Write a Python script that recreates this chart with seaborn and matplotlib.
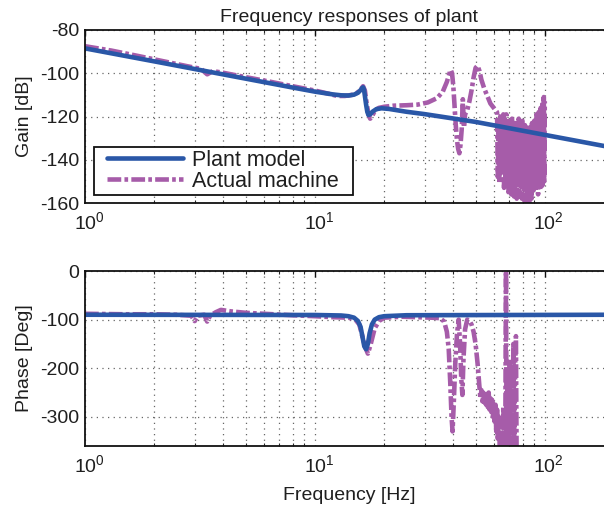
import math
import matplotlib
matplotlib.use("Agg")
import matplotlib.pyplot as plt
import matplotlib.transforms as mtransforms
from matplotlib.lines import Line2D
from matplotlib.legend_handler import HandlerLine2D
from matplotlib.ticker import FixedLocator, FuncFormatter, LogLocator, NullFormatter
import seaborn as sns

# ---------------- data ----------------
plant_freq = [1, 2, 5, 8, 10, 12, 13, 14, 14.8, 15.4, 15.8, 16.0, 16.2, 16.35, 16.5, 16.7,
              16.9, 17.1, 17.4, 17.8, 18.5, 19.5, 21, 25, 30, 50, 100, 200]
plant_gain = [-88.5, -94.5, -102.5, -106.6, -108.5, -109.8, -110.2, -110.3, -109.9, -109.0,
              -107.8, -107.0, -106.5, -107.5, -110.5, -114.5, -117.8, -119.3, -119.0, -117.8,
              -116.6, -116.2, -116.5, -117.8, -118.9, -122.5, -128.5, -134.5]

plant_phase_freq = [1, 10, 13, 14, 14.8, 15.4, 15.8, 16.1, 16.4, 16.7, 17.0, 17.3, 17.7,
                    18.2, 19, 20, 25, 200]
plant_phase = [-90, -90.5, -91.5, -93, -96, -103, -115, -135, -155, -161, -150, -128, -110,
               -100, -95, -93, -91, -90]

act_gain_freq = [1, 1.3, 1.7, 2.2, 2.8, 3.2, 3.4, 3.6, 4.0, 5.0, 6.3, 8, 10, 11.5, 12.5, 13.5,
                 14.5, 15.3, 15.8, 16.2, 16.5, 16.8, 17.1, 17.4, 17.8, 18.3, 19, 20, 22, 25,
                 28, 31, 34, 36, 37.5, 38.5, 39, 39.5, 40, 40.5, 41, 41.5, 42, 42.5, 43, 43.5,
                 44, 44.5, 45, 46, 47, 48, 49, 50, 51, 52, 53, 54.5, 56, 58, 60, 61,
                 62.0, 62.5, 63.0, 63.5, 64.0, 64.5, 65.0, 65.5, 66.0, 66.5, 67.0, 67.5,
                 68.0, 68.5, 69.0, 69.5, 70.0, 70.5, 71.0, 71.5, 72.0, 72.5, 73.0, 73.5,
                 74.0, 74.5, 75.0, 75.5, 76.0, 76.5, 77.0, 77.5, 78.0, 78.5, 79.0, 79.5,
                 80.0, 80.5, 81.0, 81.5, 82.0, 82.5, 83.0, 83.5, 84.0, 84.5, 85.0, 85.5,
                 86.0, 86.5, 87.0, 87.5, 88.0, 88.5, 89.0, 89.5, 90.0, 90.5, 91.0, 91.5,
                 92.0, 92.5, 93.0, 93.5, 94.0, 94.5, 95.0, 95.5, 96.0, 96.5, 97.0, 97.5,
                 98.0, 98.5, 99.0, 99.5, 100.0]
act_gain = [-87.5, -89.5, -92, -94.5, -96.8, -98, -100.5, -99, -99.8, -101.8, -103.8, -106,
            -108, -109.5, -110.5, -110.5, -110, -109, -107.5, -106, -108, -114, -119, -121,
            -119.5, -117, -116, -115.5, -115, -114.8, -114.5, -113.5, -111.5, -108.5, -104,
            -100, -98.5, -100, -106, -115, -124, -131, -135, -137, -133, -126, -112, -125,
            -119, -117, -113, -108, -102, -97.5, -96.5, -99, -103, -107, -110, -114, -116,
            -117,
            -118, -148, -121, -151, -120, -140, -123, -146, -119, -153, -121, -150,
            -119, -147, -125, -155, -122, -150, -124, -156, -121, -149, -126, -157,
            -123, -152, -122, -158, -125, -150, -121, -157, -124, -153, -126, -158,
            -122, -151, -127, -159, -124, -154, -128, -160, -125, -156, -127, -162,
            -124, -155, -126, -158, -123, -151, -127, -154, -122, -149, -125, -153,
            -119, -150, -123, -156, -118, -151, -121, -154, -116, -149, -119, -152,
            -113, -148, -111, -150, -113]

act_phase_freq = [1, 1.5, 2, 2.5, 2.9, 3.0, 3.1, 3.3, 3.4, 3.5, 3.7, 3.9, 4.3, 5, 6, 8, 10,
                  12, 14, 15, 15.6, 16.1, 16.6, 17.0, 17.5, 18.2, 19, 20, 24, 28, 32, 35,
                  36.5, 37.5, 38.2, 38.8, 39.3, 39.7, 40.2, 40.8, 41.5, 42.2, 42.8, 43.3,
                  43.8, 44.3, 45, 46, 47, 48, 49, 50, 51, 52, 52.5, 53, 53.5, 54, 54.5, 55,
                  55.5, 56, 56.5, 57, 57.5, 58, 58.5, 59, 59.5, 60, 60.5, 61, 61.5, 62, 62.5,
                  63, 63.8, 64.5, 65.3, 66, 66.8, 67.4, 67.8, 68.2, 68.8, 69.5, 70.2,
                  70.9, 71.6, 72.3, 73.0, 73.7, 74.4, 74.9, 75.4, 76]
act_phase = [-88, -89, -89, -90, -92, -103, -92, -90, -104, -92, -85, -80, -83, -86, -88,
             -91, -93, -95, -96, -100, -110, -135, -158, -170, -150, -118, -103, -96, -94,
             -95, -96, -97, -104, -125, -160, -230, -300, -330, -270, -190, -130, -100, -150,
             -220, -255, -180, -120, -100, -102, -110, -125, -150, -190, -240, -262, -245,
             -268, -250, -270, -248, -275, -255, -280, -250, -285, -262, -290, -265, -300,
             -270, -310, -275, -330, -285, -345,
             -300, -370, -320, -375, -280, -380, -300, 0, -380, -220, -370, -180, -365, -200,
             -370, -150, -365, -180, -134, -380, -420]

legend_labels = ["Plant model", "Actual machine"]
title_text = "Frequency responses of plant"
xtick_vals = [1, 10, 100]
gain_ticks = [-160, -140, -120, -100, -80]
phase_ticks = [-300, -200, -100, 0]

# ---------------- style ----------------
sns.set_style("white")
plt.rcParams["font.family"] = ["Liberation Sans", "DejaVu Sans"]
plt.rcParams["mathtext.fontset"] = "custom"
plt.rcParams["mathtext.rm"] = "Liberation Sans"
plt.rcParams["mathtext.it"] = "Liberation Sans:italic"
plt.rcParams["mathtext.bf"] = "Liberation Sans:bold"
plt.rcParams["axes.unicode_minus"] = False

BLUE = "#2A57A7"
PURPLE = "#A65CA9"
TXT = "#1f1f1f"
DASHDOT = (0, (3.0, 0.7, 0.8, 0.7))

fig = plt.figure(figsize=(6.04, 5.15), dpi=100)
W, H = 604, 515
ax1 = fig.add_axes([85 / W, 1 - 203 / H, 529 / W, 173 / H])
ax2 = fig.add_axes([85 / W, 1 - 446 / H, 529 / W, 175 / H])

for ax in (ax1, ax2):
    ax.set_xscale("log")

sns.lineplot(x=act_gain_freq, y=act_gain, ax=ax1, color=PURPLE, lw=3.3,
             linestyle=DASHDOT, sort=False, estimator=None, label=legend_labels[1])
sns.lineplot(x=plant_freq, y=plant_gain, ax=ax1, color=BLUE, lw=3.3,
             sort=False, estimator=None, label=legend_labels[0])

sns.lineplot(x=act_phase_freq, y=act_phase, ax=ax2, color=PURPLE, lw=3.3,
             linestyle=DASHDOT, sort=False, estimator=None, legend=False)
sns.lineplot(x=plant_phase_freq, y=plant_phase, ax=ax2, color=BLUE, lw=3.3,
             sort=False, estimator=None, legend=False)

ax1.set_ylim(-160, -80)
ax1.set_yticks(gain_ticks)
ax2.set_ylim(-360, 0)
ax2.set_yticks(phase_ticks)

fmt = FuncFormatter(lambda v, p: r"$\mathregular{10^{%d}}$" % round(math.log10(v)))
for ax in (ax1, ax2):
    ax.set_xlim(1, 200)
    ax.xaxis.set_major_locator(FixedLocator(xtick_vals))
    ax.xaxis.set_major_formatter(fmt)
    ax.xaxis.set_minor_locator(LogLocator(base=10, subs=range(2, 10)))
    ax.xaxis.set_minor_formatter(NullFormatter())
    ax.grid(True, which="both", axis="x", linestyle=(0, (1, 3.5)), color="#666666", lw=0.9)
    ax.grid(True, which="major", axis="y", linestyle=(0, (1, 3.5)), color="#666666", lw=0.9)
    ax.set_axisbelow(True)
    for s in ax.spines.values():
        s.set_color("#111111")
        s.set_linewidth(1.3)
    ax.tick_params(axis="both", which="major", direction="in", length=4, width=1.0,
                   top=True, right=True, labelsize=14, colors="#111111", labelcolor=TXT)
    ax.tick_params(axis="x", which="major", pad=6)
    ax.tick_params(axis="x", which="minor", direction="in", length=2.5, width=0.8,
                   top=True, bottom=True)
    ax.tick_params(axis="y", which="major", pad=4)
    ax.set_xlabel("")
    ax.set_ylabel("")

ax1.set_title(title_text, fontsize=14, color=TXT, pad=6)
ax1.set_ylabel("Gain [dB]", fontsize=14, color=TXT)
ax2.set_ylabel("Phase [Deg]", fontsize=14, color=TXT)
ax2.set_xlabel("Frequency [Hz]", fontsize=14, color=TXT)
ax1.yaxis.set_label_coords(-0.098, 0.5)
ax2.yaxis.set_label_coords(-0.098, 0.5)
ax2.xaxis.set_label_coords(0.5, -0.235)

handles, labels = ax1.get_legend_handles_labels()
order = [labels.index(legend_labels[0]), labels.index(legend_labels[1])]
leg = ax1.legend([handles[i] for i in order], [labels[i] for i in order],
                 loc="lower left", bbox_to_anchor=(0.017, 0.046, 0.49, 0.28),
                 mode="expand", borderaxespad=0,
                 fontsize=15.5, handlelength=4.0, handletextpad=0.42, labelspacing=0.0,
                 borderpad=0.15, fancybox=False, framealpha=1, edgecolor="#111111",
                 handler_map={Line2D: HandlerLine2D(xpad=0.47)})
leg.get_frame().set_linewidth(1.3)
for t in leg.get_texts():
    t.set_color(TXT)

fig.canvas.draw()
shift = mtransforms.ScaledTranslation(4 / 100, 0, fig.dpi_scale_trans)
for ax in (ax1, ax2):
    for lab in ax.get_xticklabels():
        lab.set_transform(lab.get_transform() + shift)

fig.savefig("out.png", dpi=100)
